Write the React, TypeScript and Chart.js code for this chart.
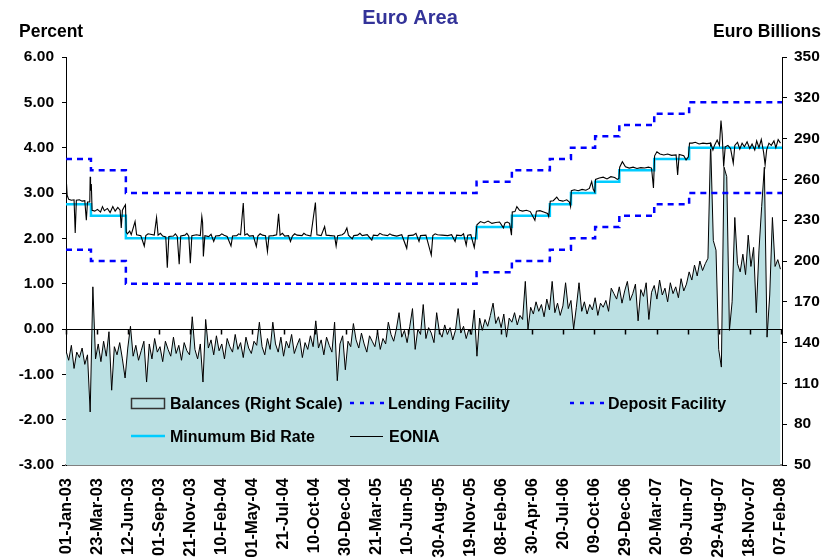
import React, { useEffect, useRef } from 'react';
import { Chart, registerables } from 'chart.js';

Chart.register(...registerables);

const FONT = '"Liberation Sans", Arial, Helvetica, sans-serif';
const TEAL = 'rgb(187,224,227)';

// x-axis tick labels (every 81 days)
const xTickLabels = [
  '01-Jan-03', '23-Mar-03', '12-Jun-03', '01-Sep-03', '21-Nov-03', '10-Feb-04',
  '01-May-04', '21-Jul-04', '10-Oct-04', '30-Dec-04', '21-Mar-05', '10-Jun-05',
  '30-Aug-05', '19-Nov-05', '08-Feb-06', '30-Apr-06', '20-Jul-06', '09-Oct-06',
  '29-Dec-06', '20-Mar-07', '09-Jun-07', '29-Aug-07', '18-Nov-07', '07-Feb-08',
];

// ECB policy rates (step changes, percent)
const rateChangeDates = [
  '2003-01-01', '2003-03-07', '2003-06-06', '2005-12-06', '2006-03-08', '2006-06-15',
  '2006-08-09', '2006-10-11', '2006-12-13', '2007-03-14', '2007-06-13', '2008-02-10',
];
const minimumBidRate = [2.75, 2.5, 2.0, 2.25, 2.5, 2.75, 3.0, 3.25, 3.5, 3.75, 4.0, 4.0];
const lendingFacility = [3.75, 3.5, 3.0, 3.25, 3.5, 3.75, 4.0, 4.25, 4.5, 4.75, 5.0, 5.0];
const depositFacility = [1.75, 1.5, 1.0, 1.25, 1.5, 1.75, 2.0, 2.25, 2.5, 2.75, 3.0, 3.0];

// Current account balances, EUR bn, weekly observations starting 01-Jan-03
const balancesStart = '2003-01-01';
const balancesStepDays = 7;
const balancesWeekly = [
  134, 127, 138, 121, 133, 129, 136, 124, 131,
  89, 181,
  128, 139, 126, 141, 130, 148,
  105,
  137, 131, 140, 128, 114, 136,
  152,
  130, 138, 127, 134, 141,
  111,
  139, 128, 143, 133, 137, 126, 141, 135, 130, 144, 132, 138, 127, 140, 134, 131,
  159,
  135, 128, 139,
  111, 157,
  136, 142, 131, 145, 134, 139, 128, 143, 137, 133, 146, 135, 140, 129, 144, 136, 132, 141, 138,
  155,
  137, 131, 143, 135,
  155,
  139, 133, 144, 130, 141, 136, 146, 132, 138, 143, 129, 140, 135, 145, 137,
  156,
  136, 142, 131, 144, 138, 133,
  155, 112,
  139, 145, 120, 141, 137,
  154,
  142, 136, 147, 139, 133, 145, 141, 137, 148, 135, 143, 139,
  155, 146, 141, 150, 162, 144, 149, 140, 152, 165, 135, 150, 146, 168, 143, 151,
  147, 140, 162, 148, 144, 153, 146, 151, 142, 149, 165, 147, 152, 143, 150, 146,
  164, 130, 158, 149,
  157, 152, 160, 169, 154, 159, 151, 161, 144, 158, 155, 162, 153, 160, 157,
  185, 150, 166, 161, 170, 163, 168, 159, 172, 164, 185, 162, 169, 160, 167, 184, 165,
  171, 150, 166, 184, 163, 170, 161, 168, 164, 173, 160, 169, 166, 171, 163, 180, 176,
  172, 181, 169, 178, 185, 171, 176, 183, 156, 179, 174, 184, 157, 177, 182, 172, 186,
  175, 180, 170, 184, 176, 181, 173, 187, 178, 183, 192, 186, 197, 189, 200, 193, 198,
  202, 287, 215, 208, 135, 122, 269, 262, 149, 170, 232, 198, 192, 205,
  190, 219, 196, 210, 162, 208, 240, 269, 144, 175, 232, 196, 201, 194,
];

// EONIA: [days since 01-Jan-03, percent]
const eoniaObs: [number, number][] = [
  [0, 3.4], [3, 2.95], [7, 2.86], [14, 2.84], [21, 2.85], [24, 2.12], [27, 2.84], [35, 2.85],
  [42, 2.82], [49, 2.83], [53, 2.4], [56, 2.8], [62, 2.8], [63, 3.36], [64, 3.05], [66, 3.2],
  [68, 2.62], [75, 2.6], [82, 2.64], [90, 2.58], [95, 2.7], [100, 2.61], [108, 2.66],
  [115, 2.57], [122, 2.7], [128, 2.6], [135, 2.68], [141, 2.62], [144, 2.23], [147, 2.62],
  [152, 2.7], [155, 2.74], [157, 2.14],
  [160, 2.1], [166, 2.16], [170, 2.08], [180, 2.37], [184, 2.08], [195, 2.06], [204, 1.83],
  [208, 2.06], [214, 2.1], [220, 2.09], [230, 2.07], [236, 2.46], [240, 2.07], [246, 2.11],
  [252, 2.05], [260, 2.03], [264, 1.35], [268, 2.04], [280, 2.05], [285, 2.1], [290, 2.04],
  [295, 1.43], [299, 2.05], [310, 2.07], [315, 2.11], [320, 2.05], [324, 1.45], [328, 2.06],
  [340, 2.08], [350, 2.06], [354, 2.48], [356, 2.35], [358, 1.6], [362, 2.06], [372, 2.04],
  [378, 2.09], [385, 1.93], [390, 2.05], [400, 2.06], [406, 2.1], [412, 2.07], [420, 2.04],
  [430, 1.83], [434, 2.05], [445, 2.06], [450, 2.1], [455, 2.08], [462, 2.78], [466, 2.07],
  [472, 2.1], [478, 2.05], [488, 2.06], [496, 1.82], [500, 2.05], [506, 2.1], [512, 2.07],
  [520, 2.06], [525, 1.71], [529, 2.05], [540, 2.06], [549, 2.08], [554, 2.54], [558, 2.07],
  [564, 2.11], [570, 2.05], [580, 2.06], [585, 1.93], [590, 2.05], [596, 2.1], [602, 2.07],
  [615, 2.06], [620, 2.11], [625, 2.08], [638, 2.05], [650, 2.79], [654, 2.08], [665, 2.06],
  [674, 2.26], [678, 2.07], [690, 2.06], [700, 2.05], [704, 1.83], [708, 2.06], [720, 2.08],
  [726, 2.12], [732, 2.23], [736, 2.07], [746, 1.99], [750, 2.06], [760, 2.07], [766, 2.11],
  [772, 2.06], [785, 2.08], [797, 1.96], [801, 2.07], [812, 2.06], [818, 2.11], [825, 2.08],
  [838, 2.06], [844, 2.1], [850, 2.07], [862, 2.05], [875, 2.08], [888, 1.78], [892, 2.06],
  [905, 2.07], [912, 2.11], [920, 1.93], [924, 2.06], [938, 2.07], [952, 1.63], [956, 2.06],
  [962, 2.1], [968, 2.08], [980, 2.07], [995, 2.06], [1005, 2.08], [1014, 1.93], [1018, 2.07],
  [1030, 2.06], [1036, 2.1], [1043, 1.85], [1047, 2.07], [1055, 2.08], [1064, 1.8],
  [1068, 2.05], [1071, 2.3],
  [1080, 2.37], [1090, 2.34], [1100, 2.38], [1110, 2.33], [1120, 2.35], [1130, 2.36],
  [1140, 2.23], [1144, 2.34], [1150, 2.36], [1156, 2.33], [1161, 2.07], [1163, 2.58],
  [1170, 2.59], [1175, 2.7], [1182, 2.62], [1190, 2.6], [1200, 2.62], [1210, 2.59],
  [1222, 2.4], [1226, 2.6], [1235, 2.61], [1245, 2.58], [1255, 2.55], [1258, 2.48], [1262, 2.82],
  [1270, 2.83], [1279, 2.91], [1285, 2.84], [1295, 2.82], [1305, 2.85], [1312, 2.8],
  [1315, 2.7], [1317, 3.05],
  [1325, 3.07], [1335, 3.05], [1345, 3.08], [1355, 3.06], [1364, 3.1], [1370, 3.25],
  [1374, 3.08], [1378, 3.02], [1380, 3.3],
  [1390, 3.33], [1400, 3.35], [1410, 3.31], [1420, 3.36], [1430, 3.34], [1437, 3.3],
  [1441, 3.32], [1443, 3.57],
  [1450, 3.69], [1458, 3.58], [1468, 3.55], [1478, 3.57], [1488, 3.54], [1498, 3.56],
  [1508, 3.55], [1518, 3.57], [1526, 3.55], [1531, 3.11], [1534, 3.82],
  [1540, 3.91], [1548, 3.86], [1558, 3.84], [1568, 3.86], [1578, 3.83], [1590, 3.84],
  [1594, 3.4], [1598, 3.85], [1610, 3.82], [1616, 3.73], [1622, 3.8], [1625, 4.1],
  [1632, 4.1], [1640, 4.12], [1650, 4.08], [1660, 4.1], [1670, 4.09], [1680, 4.1],
  [1686, 3.95], [1690, 4.05], [1697, 4.17], [1703, 4.05], [1707, 4.6], [1710, 4.3],
  [1714, 3.58], [1718, 4.02], [1725, 4.05], [1732, 3.98], [1739, 3.66], [1743, 4.05],
  [1750, 4.12], [1756, 3.97], [1762, 4.1], [1768, 4.02], [1775, 4.13], [1782, 3.98],
  [1788, 4.08], [1795, 3.95], [1800, 4.15], [1806, 4.0], [1812, 4.18], [1818, 3.9],
  [1822, 3.62], [1826, 3.95], [1832, 4.1], [1838, 4.05], [1845, 4.15], [1850, 4.0],
  [1856, 4.18], [1862, 4.1],
];

const MONTHS = ['Jan', 'Feb', 'Mar', 'Apr', 'May', 'Jun', 'Jul', 'Aug', 'Sep', 'Oct', 'Nov', 'Dec'];
const BASE = Date.UTC(2003, 0, 1);
const DAY = 86400000;
const dayOfLabel = (s: string) => {
  const [d, m, y] = s.split('-');
  return Math.round((Date.UTC(2000 + Number(y), MONTHS.indexOf(m), Number(d)) - BASE) / DAY);
};
const dayOfIso = (s: string) => {
  const [y, m, d] = s.split('-').map(Number);
  return Math.round((Date.UTC(y, m - 1, d) - BASE) / DAY);
};

const tickDays = xTickLabels.map(dayOfLabel);
const labelByDay = new Map<number, string>(xTickLabels.map((l, i) => [tickDays[i], l]));
const X_MAX = dayOfIso('2008-02-10');

const decorPlugin = {
  id: 'decor',
  afterDatasetDraw(chart: any, args: any) {
    if (chart.data.datasets[args.index].label !== 'Balances') return;
    const { ctx, chartArea } = chart;
    const y0 = Math.round(chart.scales.y.getPixelForValue(0)) + 0.5;
    ctx.save();
    ctx.strokeStyle = '#000';
    ctx.lineWidth = 1;
    ctx.beginPath();
    ctx.moveTo(chartArea.left, y0);
    ctx.lineTo(chartArea.right, y0);
    ctx.stroke();
    ctx.lineWidth = 1.5;
    ctx.beginPath();
    for (const d of tickDays) {
      const px = Math.round(chart.scales.x.getPixelForValue(d)) + 0.5;
      ctx.moveTo(px, y0);
      ctx.lineTo(px, y0 + 5);
    }
    ctx.stroke();
    ctx.restore();
  },
  afterDraw(chart: any) {
    const { ctx } = chart;
    ctx.save();
    ctx.textBaseline = 'alphabetic';
    // title
    ctx.font = `bold 20px ${FONT}`;
    ctx.fillStyle = '#333399';
    ctx.textAlign = 'center';
    ctx.fillText('Euro Area', 410, 24);
    // axis titles
    ctx.font = `bold 17.5px ${FONT}`;
    ctx.fillStyle = '#000';
    ctx.textAlign = 'left';
    ctx.fillText('Percent', 19, 37);
    ctx.textAlign = 'right';
    ctx.fillText('Euro Billions', 821, 37);
    // legend
    ctx.textAlign = 'left';
    ctx.font = `bold 16px ${FONT}`;
    const r1 = 403, r2 = 436;
    ctx.fillStyle = TEAL;
    ctx.fillRect(131.5, 398.5, 33, 10);
    ctx.strokeStyle = '#333';
    ctx.lineWidth = 1.5;
    ctx.strokeRect(131.5, 398.5, 33, 10);
    ctx.fillStyle = '#000';
    ctx.fillText('Balances (Right Scale)', 170, 409);

    ctx.strokeStyle = '#0000FF';
    ctx.lineWidth = 2.5;
    ctx.setLineDash([4, 6]);
    ctx.beginPath();
    ctx.moveTo(350, r1); ctx.lineTo(386, r1);
    ctx.moveTo(570, r1); ctx.lineTo(606, r1);
    ctx.stroke();
    ctx.setLineDash([]);
    ctx.fillText('Lending Facility', 388, 409);
    ctx.fillText('Deposit Facility', 608, 409);

    ctx.strokeStyle = '#00CCFF';
    ctx.lineWidth = 2.5;
    ctx.beginPath();
    ctx.moveTo(131, r2); ctx.lineTo(165, r2);
    ctx.stroke();
    ctx.strokeStyle = '#000';
    ctx.lineWidth = 1;
    ctx.beginPath();
    ctx.moveTo(350, r2 + 0.5); ctx.lineTo(383, r2 + 0.5);
    ctx.stroke();
    ctx.fillText('Minumum Bid Rate', 170, 441.5);
    ctx.fillText('EONIA', 389, 441.5);
    ctx.restore();
  },
};

export default function App() {
  const ref = useRef<HTMLCanvasElement | null>(null);

  useEffect(() => {
    if (!ref.current) return;
    const rateDays = rateChangeDates.map(dayOfIso);
    const startDay = dayOfIso(balancesStart);
    const stepData = (vals: number[]) => vals.map((v, i) => ({ x: rateDays[i], y: v }));
    const tickFont = { family: FONT, size: 15.5, weight: 'bold' as const };

    const chart = new Chart(ref.current, {
      type: 'line',
      data: {
        datasets: [
          {
            label: 'EONIA',
            data: eoniaObs.map(([d, v]) => ({ x: d, y: v })),
            borderColor: '#000',
            borderWidth: 1.1,
            pointRadius: 0,
            fill: false,
            yAxisID: 'y',
            order: 0,
          },
          {
            label: 'Minumum Bid Rate',
            data: stepData(minimumBidRate),
            stepped: true,
            borderColor: '#00CCFF',
            borderWidth: 2.5,
            pointRadius: 0,
            fill: false,
            yAxisID: 'y',
            order: 1,
          },
          {
            label: 'Lending Facility',
            data: stepData(lendingFacility),
            stepped: true,
            borderColor: '#0000FF',
            borderWidth: 2.5,
            borderDash: [6, 5],
            pointRadius: 0,
            fill: false,
            yAxisID: 'y',
            order: 2,
          },
          {
            label: 'Deposit Facility',
            data: stepData(depositFacility),
            stepped: true,
            borderColor: '#0000FF',
            borderWidth: 2.5,
            borderDash: [6, 5],
            pointRadius: 0,
            fill: false,
            yAxisID: 'y',
            order: 3,
          },
          {
            label: 'Balances',
            data: balancesWeekly.map((v, i) => ({ x: startDay + i * balancesStepDays, y: v })),
            borderColor: '#000',
            borderWidth: 1,
            backgroundColor: TEAL,
            pointRadius: 0,
            fill: 'start',
            yAxisID: 'y1',
            order: 4,
          },
        ],
      },
      options: {
        animation: false,
        responsive: false,
        devicePixelRatio: 1,
        events: [],
        layout: { padding: { top: 57, left: 0, right: 0, bottom: 0 } },
        plugins: {
          legend: { display: false },
          title: { display: false },
          tooltip: { enabled: false },
        },
        scales: {
          x: {
            type: 'linear',
            position: 'bottom',
            min: 0,
            max: X_MAX,
            grid: { display: false, drawTicks: false, tickLength: 0 },
            border: { display: true, color: '#808080', width: 2 },
            ticks: {
              autoSkip: false,
              minRotation: 90,
              maxRotation: 90,
              padding: 13,
              color: '#000',
              font: { family: FONT, size: 16.5, weight: 'bold' },
              callback: (v: any) => labelByDay.get(Math.round(Number(v))) ?? '',
            },
            afterBuildTicks: (s: any) => {
              s.ticks = tickDays.map((v) => ({ value: v }));
            },
            afterFit: (s: any) => {
              s.height = 93;
            },
          },
          y: {
            position: 'left',
            min: -3,
            max: 6,
            ticks: {
              stepSize: 1,
              padding: 8,
              color: '#000',
              font: tickFont,
              callback: (v: any) => Number(v).toFixed(2),
            },
            grid: { drawOnChartArea: false, drawTicks: true, tickLength: 4, color: '#000' },
            border: { display: true, color: '#000', width: 1 },
            afterFit: (s: any) => {
              s.width = 66;
            },
          },
          y1: {
            position: 'right',
            min: 50,
            max: 350,
            ticks: {
              stepSize: 30,
              padding: 7,
              color: '#000',
              font: tickFont,
            },
            grid: { drawOnChartArea: false, drawTicks: true, tickLength: 5, color: '#000' },
            border: { display: true, color: '#000', width: 1 },
            afterFit: (s: any) => {
              s.width = 47;
            },
          },
        },
      },
      plugins: [decorPlugin],
    });
    return () => chart.destroy();
  }, []);

  return (
    <div style={{ position: 'absolute', left: 0, top: 0, width: 829, height: 558, background: '#fff' }}>
      <canvas ref={ref} width={829} height={558} style={{ display: 'block' }} />
    </div>
  );
}
